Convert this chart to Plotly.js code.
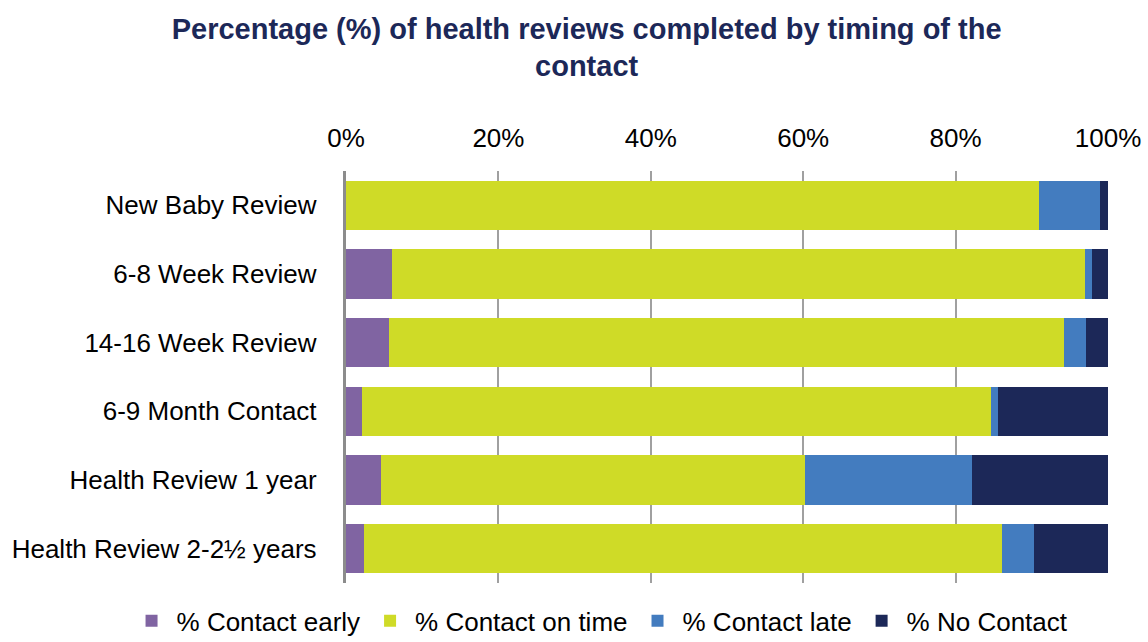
<!DOCTYPE html>
<html>
<head>
<meta charset="utf-8">
<script src="https://cdn.plot.ly/plotly-3.0.1.min.js"></script>
<style>
  html, body { margin: 0; padding: 0; background: #ffffff; }
  #chart { width: 1148px; height: 642px; }
</style>
</head>
<body>
<div id="chart"></div>
<script>
// Review types, top to bottom
const reviews = ['New Baby Review ', '6-8 Week Review ', '14-16 Week Review ', '6-9 Month Contact ', 'Health Review 1 year ', 'Health Review 2-2½ years '];

// Percentages per timing group
const contactEarly = [0, 6.0, 5.7, 2.1, 4.6, 2.4];
const contactOnTime = [90.9, 91.0, 88.5, 82.6, 55.7, 83.7];
const contactLate = [8.1, 0.9, 2.9, 0.8, 21.9, 4.2];
const noContact = [1.0, 2.1, 2.9, 14.5, 17.8, 9.7];

const seriesNames = ['% Contact early', '% Contact on time', '% Contact late', '% No Contact'];
const seriesColors = ['#8064a2', '#cfdb27', '#437cbf', '#1c2858'];
const seriesValues = [contactEarly, contactOnTime, contactLate, noContact];

const traces = seriesValues.map((vals, i) => ({
    type: 'bar',
    orientation: 'h',
    name: seriesNames[i],
    x: vals,
    y: reviews,
    marker: { color: seriesColors[i], line: { width: 0 } },
    hoverinfo: 'x+name'
}));

const layout = {
    width: 1148,
    height: 642,
    barmode: 'stack',
    bargap: 0.285,
    margin: { l: 346, r: 40, t: 171, b: 59, autoexpand: false },
    paper_bgcolor: '#ffffff',
    plot_bgcolor: '#ffffff',
    font: { family: 'Liberation Sans, Arial, sans-serif', size: 26, color: '#000000' },
    title: {
        text: '<b>Percentage (%) of health reviews completed by timing of the<br>contact</b>',
        font: { family: 'Liberation Sans, Arial, sans-serif', size: 29, color: '#1c2858' },
        x: 0.511,
        xanchor: 'center',
        y: 0.94,
        yanchor: 'middle'
    },
    xaxis: {
        side: 'top',
        range: [0, 100],
        tickvals: [0, 20, 40, 60, 80, 100],
        ticktext: ['0%', '20%', '40%', '60%', '80%', '100%'],
        showgrid: true,
        gridcolor: '#a0a0a0',
        gridwidth: 2,
        zeroline: false,
        showline: false,
        ticks: '',
        ticklabelstandoff: 18,
        fixedrange: true
    },
    yaxis: {
        autorange: 'reversed',
        showline: true,
        linecolor: '#8c8c8c',
        linewidth: 3,
        showgrid: false,
        ticks: '',
        ticklabelstandoff: 14,
        fixedrange: true
    },
    legend: {
        orientation: 'h',
        x: -0.288,
        xanchor: 'left',
        y: -0.035,
        yanchor: 'top',
        font: { size: 26 },
        itemwidth: 40,
        traceorder: 'normal'
    },
    showlegend: true
};

Plotly.newPlot('chart', traces, layout, { displayModeBar: false, responsive: false });
</script>
</body>
</html>
